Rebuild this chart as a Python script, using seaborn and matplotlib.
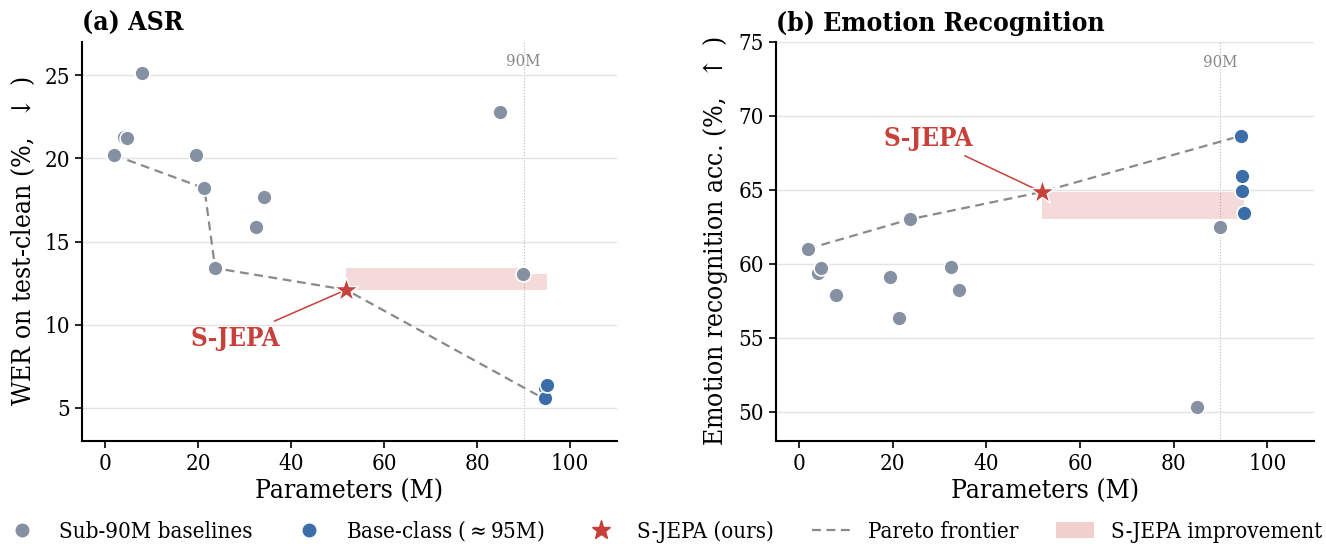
import numpy as np
import pandas as pd
import seaborn as sns
import matplotlib.pyplot as plt
from matplotlib.lines import Line2D
from matplotlib.patches import Patch

# Sub-90M baselines (params in M)
base_params = [1.8, 4.1, 4.6, 7.8, 19.4, 21.3, 23.6, 32.5, 34.2, 85.0, 89.9]
base_wer = [20.2, 21.3, 21.2, 25.1, 20.2, 18.2, 13.4, 15.9, 17.7, 22.8, 13.05]
base_er = [61.0, 59.35, 59.7, 57.9, 59.1, 56.3, 63.0, 59.8, 58.25, 50.3, 62.5]

# Base-class models (~95M)
big_params = [94.4, 94.7, 94.7, 95.0]
big_wer = [5.55, 6.2, 5.6, 6.4]
big_er = [68.65, 65.95, 64.9, 63.45]

# S-JEPA
sj_params = 51.8
sj_wer = 12.1
sj_er = 64.85

GREY = "#8591a2"
BLUE = "#3b6ea8"
RED = "#c8403a"

sns.set_theme(style="ticks")
plt.rcParams["font.family"] = ["DejaVu Serif"]
plt.rcParams["font.stretch"] = "condensed"
plt.rcParams["mathtext.fontset"] = "dejavuserif"
plt.rcParams["text.color"] = "black"
plt.rcParams["axes.labelcolor"] = "black"
plt.rcParams["xtick.color"] = "black"
plt.rcParams["ytick.color"] = "black"


def pareto(px, py, lower_better):
    # sort by size, ties broken by best score first
    order = sorted(range(len(px)), key=lambda i: (px[i], py[i] if lower_better else -py[i]))
    xs, ys = [], []
    best = None
    for i in order:
        v = py[i]
        if best is None or (v < best if lower_better else v > best):
            best = v
            xs.append(px[i])
            ys.append(v)
    return xs, ys


def best_below(x, px, py, lower_better):
    vals = [v for p, v in zip(px, py) if p <= x]
    return min(vals) if lower_better else max(vals)


def panel(ax, yb, yg, ys, lower_better, title, ylabel, ylim, yticks, txt_xy, lab_y):
    all_x = base_params + big_params + [sj_params]
    all_y = yb + yg + [ys]
    fx, fy = pareto(all_x, all_y, lower_better)
    sns.lineplot(x=fx, y=fy, ax=ax, color="#8a8a8a", lw=1.6, ls=(0, (4, 2.5)),
                 zorder=2, sort=False)

    # improvement band vs. best sub-90M baseline at <= same size
    bx = [sj_params] + [p for p in sorted(base_params) if p > sj_params] + [max(big_params)]
    by = [best_below(x, base_params, yb, lower_better) for x in bx]
    ax.fill_between(bx, [ys] * len(bx), by, step="post", color=RED, alpha=0.19,
                    lw=0, zorder=1)

    ax.axvline(90, color="#bbbbbb", lw=0.8, ls=":", zorder=0)
    ax.text(90, lab_y, "90M", color="#888888", fontsize=12, ha="center", va="center")

    df_b = pd.DataFrame({"x": base_params, "y": yb})
    df_g = pd.DataFrame({"x": big_params, "y": yg})
    sns.scatterplot(data=df_b, x="x", y="y", ax=ax, color=GREY, s=115,
                    edgecolor="white", linewidth=1.2, zorder=3)
    sns.scatterplot(data=df_g, x="x", y="y", ax=ax, color=BLUE, s=115,
                    edgecolor="white", linewidth=1.2, zorder=3)
    ax.scatter([sj_params], [ys], marker="*", s=340, color=RED,
               edgecolor="white", linewidth=1.0, zorder=4)

    ax.annotate("S-JEPA", xy=(sj_params, ys), xytext=txt_xy, color=RED,
                fontsize=18.5, fontweight="bold", ha="center", va="center",
                arrowprops=dict(arrowstyle="-", color=RED, lw=1.1,
                                shrinkA=2, shrinkB=4))

    ax.set_xlim(-5, 110)
    ax.set_ylim(*ylim)
    ax.set_yticks(yticks)
    ax.set_xticks([0, 20, 40, 60, 80, 100])
    ax.yaxis.grid(True, color="#e3e3e3", lw=1)
    ax.set_axisbelow(True)
    ax.set_xlabel("Parameters (M)", fontsize=19, labelpad=3)
    ax.set_ylabel(ylabel, fontsize=19, labelpad=6)
    ax.set_title(title, loc="left", fontsize=19, fontweight="bold", pad=8)
    ax.tick_params(labelsize=16, width=1.2, length=5, color="black")
    for s in ["left", "bottom"]:
        ax.spines[s].set_linewidth(1.5)
        ax.spines[s].set_color("black")
    sns.despine(ax=ax)


fig = plt.figure(figsize=(13.26, 5.44), dpi=100)
ax1 = fig.add_axes([0.062, 0.189, 0.403, 0.734])
ax2 = fig.add_axes([0.585, 0.189, 0.406, 0.734])

panel(ax1, base_wer, big_wer, sj_wer, True, "(a) ASR",
      "WER on test-clean (%,  $\\downarrow$ )", (3, 27), [5, 10, 15, 20, 25],
      (28, 9.2), 25.8)
panel(ax2, base_er, big_er, sj_er, False, "(b) Emotion Recognition",
      "Emotion recognition acc. (%,  $\\uparrow$ )", (48, 75), [50, 55, 60, 65, 70, 75],
      (27.7, 68.45), 73.6)

handles = [
    Line2D([], [], marker="o", ls="none", color=GREY, markersize=9),
    Line2D([], [], marker="o", ls="none", color=BLUE, markersize=9),
    Line2D([], [], marker="*", ls="none", color=RED, markersize=14),
    Line2D([], [], color="#8a8a8a", lw=1.6, ls=(0, (4, 2.5))),
    Patch(facecolor=RED, alpha=0.25, lw=0),
]
labels = ["Sub-90M baselines", "Base-class ($\\approx$95M)", "S-JEPA (ours)",
          "Pareto frontier", "S-JEPA improvement"]
fig.legend(handles, labels, loc="lower center", bbox_to_anchor=(0.5, -0.035),
           ncol=5, frameon=False, fontsize=16, columnspacing=1.7,
           handletextpad=0.8, handlelength=1.7)

fig.savefig("out.png", dpi=100)
